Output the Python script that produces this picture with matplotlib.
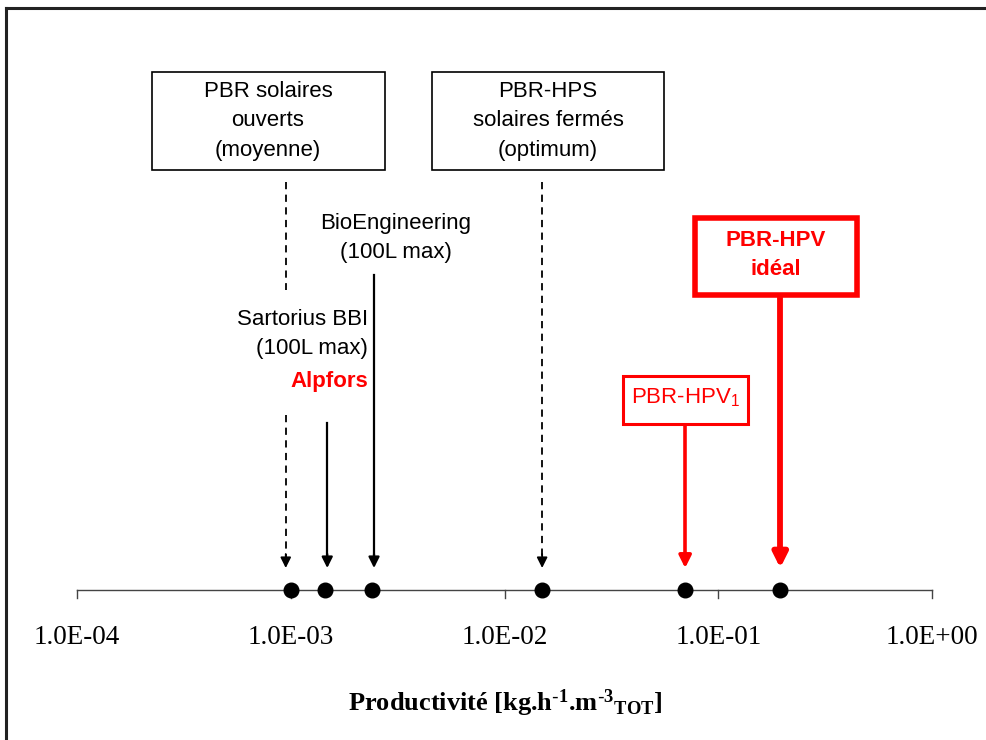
import matplotlib.pyplot as plt
from matplotlib.patches import Rectangle

plt.rcParams['font.family'] = ['Liberation Sans', 'DejaVu Sans']
plt.rcParams['mathtext.default'] = 'regular'

W, H = 986, 740

# productivité (kg.h-1.m-3 TOT) of each system
names = ['PBR solaires ouverts', 'Alpfors', 'BioEngineering',
         'PBR-HPS solaires fermés', 'PBR-HPV1', 'PBR-HPV idéal']
prod = [1.0e-3, 1.45e-3, 2.4e-3, 1.5e-2, 7.0e-2, 1.95e-1]
ticks = [1e-4, 1e-3, 1e-2, 1e-1, 1e0]
tick_labels = ['1.0E-04', '1.0E-03', '1.0E-02', '1.0E-01', '1.0E+00']

fig = plt.figure(figsize=(W / 100, H / 100), dpi=100)
fig.patch.set_facecolor('white')

# log axis, y in pixel units from the top
ax = fig.add_axes([77 / W, 0, 855 / W, 1])
ax.set_xscale('log')
ax.set_xlim(ticks[0], ticks[-1])
ax.set_ylim(H, 0)
ax.axis('off')

y_axis = 590
ax.plot([ticks[0], ticks[-1]], [y_axis, y_axis], color='#444444', lw=1, clip_on=False)
for t, lab in zip(ticks, tick_labels):
    ax.plot([t, t], [y_axis, y_axis + 8], color='#444444', lw=1, clip_on=False)
    ax.text(t, 637, lab, ha='center', va='center', fontsize=19.5,
            family='Liberation Serif')

# arrows: (top y, dashed, colour, width, x shift in px)
arrows = [
    (415, True, 'black', 1.3, -5),
    (423, False, 'black', 1.6, 2),
    (275, False, 'black', 1.6, 2),
    (182, True, 'black', 1.3, 0),
    (426, False, 'red', 2.6, 0),
    (300, False, 'red', 4.2, 0),
]
for x, (top, dashed, col, lw, dx) in zip(prod, arrows):
    xa = x * 10 ** (dx / 213.75)
    ax.plot([xa, xa], [top, 558], color=col, lw=lw, ls=(0, (4, 3)) if dashed else '-',
            clip_on=False)
    ax.annotate('', xy=(xa, 568), xytext=(xa, 554),
                arrowprops=dict(arrowstyle='-|>', color=col, lw=lw,
                                mutation_scale=13 + lw * 2, shrinkA=0, shrinkB=0))
    if top == 415:
        # upper dashed part coming from the first box
        ax.plot([xa, xa], [182, 290], color=col, lw=lw, ls=(0, (4, 3)))

ax.plot(prod, [y_axis] * len(prod), 'o', ms=10.5, color='black', zorder=5, clip_on=False)

# overlay for boxes and labels (pixel coordinates)
ov = fig.add_axes([0, 0, 1, 1])
ov.set_xlim(0, W)
ov.set_ylim(H, 0)
ov.axis('off')
ov.patch.set_alpha(0)

# outer frame (top and left)
ov.plot([6, W], [8, 8], color='#222222', lw=2.2)
ov.plot([6, 6], [8, H], color='#222222', lw=2.2)

fs = 16
ls = 1.55
ov.add_patch(Rectangle((152, 72), 233, 98, fill=False, ec='black', lw=1.2))
ov.text(268, 121, 'PBR solaires\nouverts\n(moyenne)', ha='center', va='center',
        fontsize=fs, linespacing=ls)
ov.add_patch(Rectangle((432, 72), 232, 98, fill=False, ec='black', lw=1.2))
ov.text(548, 121, 'PBR-HPS\nsolaires fermés\n(optimum)', ha='center', va='center',
        fontsize=fs, linespacing=ls)

ov.text(396, 238, 'BioEngineering\n(100L max)', ha='center', va='center',
        fontsize=fs, linespacing=ls)
ov.text(368, 334, 'Sartorius BBI\n(100L max)', ha='right', va='center',
        fontsize=fs, linespacing=ls, multialignment='right')
ov.text(368, 381, 'Alpfors', ha='right', va='center', fontsize=fs,
        color='red', fontweight='bold')

ov.add_patch(Rectangle((623, 376), 125, 48, fill=False, ec='red', lw=2.2))
ov.text(685, 398, 'PBR-HPV$_1$', ha='center', va='center', fontsize=fs, color='red')

ov.add_patch(Rectangle((695, 218), 162, 77, fill=False, ec='red', lw=4))
ov.text(776, 255, 'PBR-HPV\nidéal', ha='center', va='center', fontsize=fs,
        color='red', fontweight='bold', linespacing=ls)

ov.text(505, 703, r'Productivité [kg.h$^{\text{-}1}$.m$^{\text{-}3}$$_{TOT}$]',
        ha='center', va='center', fontsize=19, fontweight='bold',
        family='Liberation Serif')

fig.savefig('out.png', dpi=100, facecolor='white')
plt.close()
